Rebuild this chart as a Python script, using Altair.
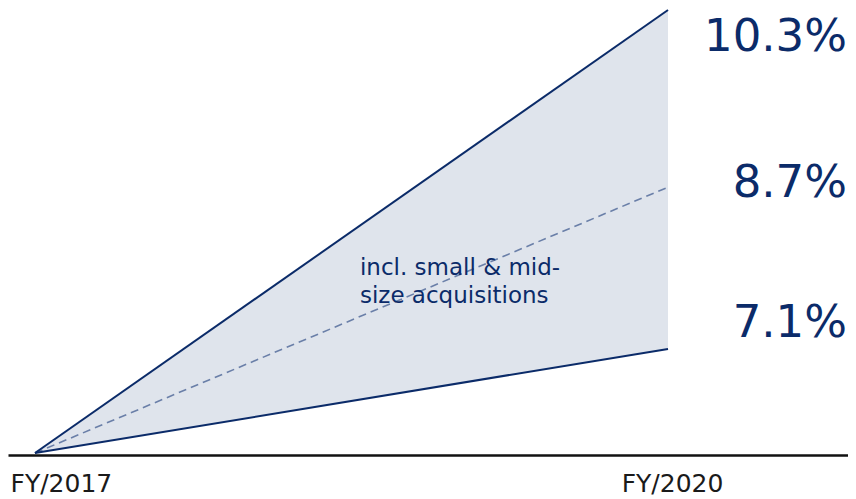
import altair as alt
import pandas as pd

# Data
years = [2017, 2020]
upper = [0, 100.0]      # relative height of the 10.3% line
middle = [0, 60.0]      # relative height of the 8.7% dashed line
lower = [0, 23.5]       # relative height of the 7.1% line
end_labels = ["10.3%", "8.7%", "7.1%"]
label_heights = [94.0, 61.0, 29.3]
tick_years = [2017, 2020]
note_lines = ["incl. small & mid-", "size acquisitions"]

NAVY = "#0b2b69"
DASH = "#6a7fa8"
FILL = "#dfe4ec"

df = pd.DataFrame({"year": years, "upper": upper, "middle": middle, "lower": lower})
lab = pd.DataFrame({"year": [years[-1]] * 3, "h": label_heights, "t": end_labels})
note = pd.DataFrame({"year": [2018.54], "h": [40.2], "t": [note_lines]})

xs = alt.Scale(domain=[2016.872, 2020.853], nice=False, zero=False)
ys = alt.Scale(domain=[-0.45, 100.45], nice=False, zero=False)

xax = alt.Axis(
    values=tick_years,
    labelExpr="'FY/' + datum.value",
    title=None,
    ticks=False,
    grid=False,
    domain=True,
    domainColor="#111111",
    domainWidth=2.5,
    labelFont="DejaVu Sans",
    labelFontSize=25,
    labelColor="#1a1a1a",
    labelBaseline="top",
    labelPadding=16,
    labelOverlap=False,
    labelFlush=False,
    labelAlign={"condition": {"test": "datum.value <= 2017", "value": "left"}, "value": "center"},
    labelOffset={"condition": {"test": "datum.value <= 2017", "value": -25}, "value": 4},
)

base = alt.Chart(df)

area = base.mark_area(color=FILL, opacity=1).encode(
    x=alt.X("year:Q", scale=xs, axis=xax),
    y=alt.Y("lower:Q", scale=ys, axis=None),
    y2="upper:Q",
)
l_up = base.mark_line(color=NAVY, strokeWidth=2).encode(
    x=alt.X("year:Q", scale=xs), y=alt.Y("upper:Q", scale=ys)
)
l_lo = base.mark_line(color=NAVY, strokeWidth=2).encode(
    x=alt.X("year:Q", scale=xs), y=alt.Y("lower:Q", scale=ys)
)
l_mid = base.mark_line(color=DASH, strokeWidth=1.6, strokeDash=[8, 5]).encode(
    x=alt.X("year:Q", scale=xs), y=alt.Y("middle:Q", scale=ys)
)

labels = alt.Chart(lab).mark_text(
    font="DejaVu Sans", fontSize=45, color=NAVY, align="right", baseline="middle", dx=179
).encode(x=alt.X("year:Q", scale=xs), y=alt.Y("h:Q", scale=ys), text="t:N")

notes = alt.Chart(note).mark_text(
    font="DejaVu Sans", fontSize=23, color=NAVY, align="left", baseline="alphabetic", lineHeight=28
).encode(x=alt.X("year:Q", scale=xs), y=alt.Y("h:Q", scale=ys), text="t")

chart = (
    alt.layer(area, l_mid, l_up, l_lo, notes, labels)
    .properties(
        width=840,
        height=447,
        autosize=alt.AutoSizeParams(type="none"),
        padding={"left": 0, "top": 0, "right": 0, "bottom": 44},
    )
    .configure_view(strokeWidth=0)
)

chart.save("out.html", embed_options={"renderer": "svg", "actions": False})
